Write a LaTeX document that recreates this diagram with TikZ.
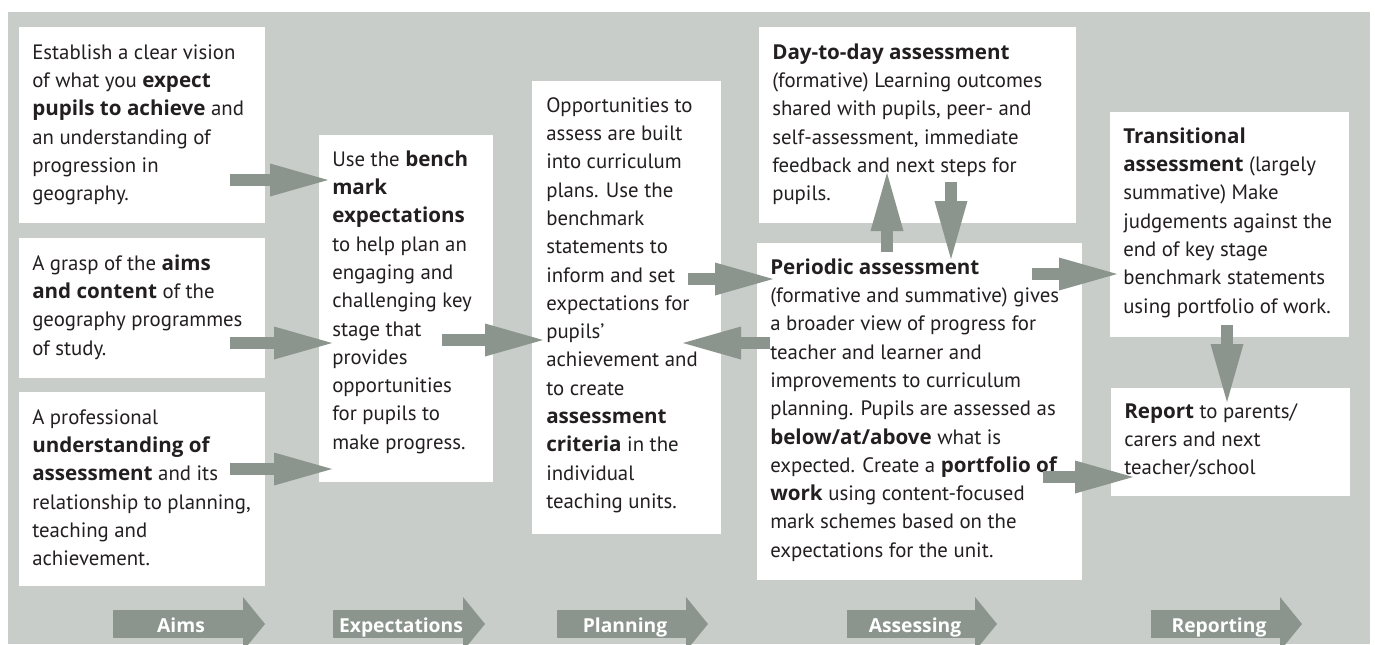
\documentclass[tikz,border=0pt]{standalone}
\usepackage{fontspec}
\setmainfont{PT Sans}
\newfontfamily\bfam{Open Sans}[Scale=0.99]
\usetikzlibrary{arrows.meta,fit}
\definecolor{bggrey}{RGB}{201,205,201}
\definecolor{arrgrey}{RGB}{139,149,141}
\definecolor{ink}{RGB}{35,31,32}
\tikzset{
  box/.style={fill=white, draw=none, inner sep=0pt},
  txt/.style={anchor=north west, inner sep=0pt, align=left, text=ink,
    font=\fontsize{15.6}{21.225}\selectfont, yshift=16pt},
  blk/.style={draw=arrgrey, line width=9pt,
    -{Triangle[length=43.5pt, width=24.75pt, line width=0pt]}},
  stage/.style={draw=arrgrey, line width=21pt,
    -{Triangle[length=16.5pt, width=40.5pt, line width=0pt]}},
  stagelbl/.style={text=white, font=\bfam\bfseries\fontsize{14.6}{18}\selectfont,
    anchor=base, inner sep=0pt}
}
\newcommand{\fl}{\rule{0pt}{16pt}}
\newcommand{\bt}[1]{{\bfam\bfseries #1}}
\begin{document}
\begin{tikzpicture}[x=0.75pt,y=-0.75pt]
\useasboundingbox (0,0) rectangle (1375,644);
\fill[white] (0,0) rectangle (1375,644);
\fill[bggrey] (8,12) rectangle (1370,644);

% boxes
\node[box, fit={(19,27)(265,223)}] (A1) {};
\node[box, fit={(19,238)(265,378)}] (A2) {};
\node[box, fit={(19,392)(265,586)}] (A3) {};
\node[box, fit={(319,135)(493,482)}] (E) {};
\node[box, fit={(532,81)(721,534)}] (P) {};
\node[box, fit={(759,27)(1076,223)}] (D) {};
\node[box, fit={(757,243)(1082,580)}] (Per) {};
\node[box, fit={(1110,112)(1349,337)}] (T) {};
\node[box, fit={(1111,388)(1350,496)}] (R) {};

% texts
\node[txt] (A1t) at (32,59) {\fl Establish a clear vision\\of what you \bt{expect}\\\bt{pupils to achieve} and\\an understanding of\\progression in\\geography.};
\node[txt] (A2t) at (32,270) {\fl A grasp of the \bt{aims}\\\bt{and content} of the\\geography programmes\\of study.};
\node[txt] (A3t) at (32,424) {\fl A professional\\\bt{understanding of}\\\bt{assessment} and its\\relationship to planning,\\teaching and\\achievement.};
\node[txt] (Et) at (332,166) {\fl Use the \bt{bench}\\\bt{mark}\\\bt{expectations}\\to help plan an\\engaging and\\challenging key\\stage that\\provides\\opportunities\\for pupils to\\make progress.};
\node[txt] (Pt) at (546,112) {\fl Opportunities to\\assess are built\\into curriculum\\plans. Use the\\benchmark\\statements to\\inform and set\\expectations for\\pupils’\\achievement and\\to create\\\bt{assessment}\\\bt{criteria} in the\\individual\\teaching units.};
\node[txt] (Dt) at (772,59) {\fl\bt{Day-to-day assessment}\\(formative) Learning outcomes\\shared with pupils, peer- and\\self-assessment, immediate\\feedback and next steps for\\pupils.};
\node[txt] (Pert) at (770,274) {\fl\bt{Periodic assessment}\\(formative and summative) gives\\a broader view of progress for\\teacher and learner and\\improvements to curriculum\\planning. Pupils are assessed as\\\bt{below/at/above} what is\\expected. Create a \bt{portfolio of}\\\bt{work} using content-focused\\mark schemes based on the\\expectations for the unit.};
\node[txt] (Tt) at (1123,143) {\fl\bt{Transitional}\\\bt{assessment} (largely\\summative) Make\\judgements against the\\end of key stage\\benchmark statements\\using portfolio of work.};
\node[txt] (Rt) at (1124,418) {\fl\bt{Report} to parents/\\carers and next\\teacher/school};

% block arrow end points
\coordinate (a1s) at (230,180);  \coordinate (a1e) at (328,180);
\coordinate (a2s) at (230,343);  \coordinate (a2e) at (332,343);
\coordinate (a3s) at (230,469);  \coordinate (a3e) at (332,469);
\coordinate (eps) at (442,340);  \coordinate (epe) at (543,340);
\coordinate (pqs) at (688,279);  \coordinate (pqe) at (773,279);
\coordinate (qps) at (770,343);  \coordinate (qpe) at (683,343);
\coordinate (ups) at (887,252);  \coordinate (upe) at (887,173);
\coordinate (dns) at (951,182);  \coordinate (dne) at (951,259);
\coordinate (qts) at (1032,274); \coordinate (qte) at (1117,274);
\coordinate (trs) at (1227,325); \coordinate (tre) at (1227,402);
\coordinate (qrs) at (1043,477); \coordinate (qre) at (1133,477);

\draw[blk] (a1s) -- (a1e);
\draw[blk] (a2s) -- (a2e);
\draw[blk] (a3s) -- (a3e);
\draw[blk] (eps) -- (epe);
\draw[blk] (pqs) -- (pqe);
\draw[blk] (qps) -- (qpe);
\draw[blk] (ups) -- (upe);
\draw[blk] (dns) -- (dne);
\draw[blk] (qts) -- (qte);
\draw[blk] (trs) -- (tre);
\draw[blk] (qrs) -- (qre);

% stage arrows
\coordinate (s1a) at (113,624); \coordinate (s1b) at (265,624);
\coordinate (s2a) at (333,624); \coordinate (s2b) at (485,624);
\coordinate (s3a) at (557,624); \coordinate (s3b) at (708,624);
\coordinate (s4a) at (847,624); \coordinate (s4b) at (997,624);
\coordinate (s5a) at (1151,624); \coordinate (s5b) at (1302,624);
\draw[stage] (s1a) -- (s1b);
\draw[stage] (s2a) -- (s2b);
\draw[stage] (s3a) -- (s3b);
\draw[stage] (s4a) -- (s4b);
\draw[stage] (s5a) -- (s5b);
\node[stagelbl] (l1) at (181,632) {Aims};
\node[stagelbl] (l2) at (401,632) {Expectations};
\node[stagelbl] (l3) at (625,632) {Planning};
\node[stagelbl] (l4) at (915,632) {Assessing};
\node[stagelbl] (l5) at (1219,632) {Reporting};
\end{tikzpicture}
\end{document}
